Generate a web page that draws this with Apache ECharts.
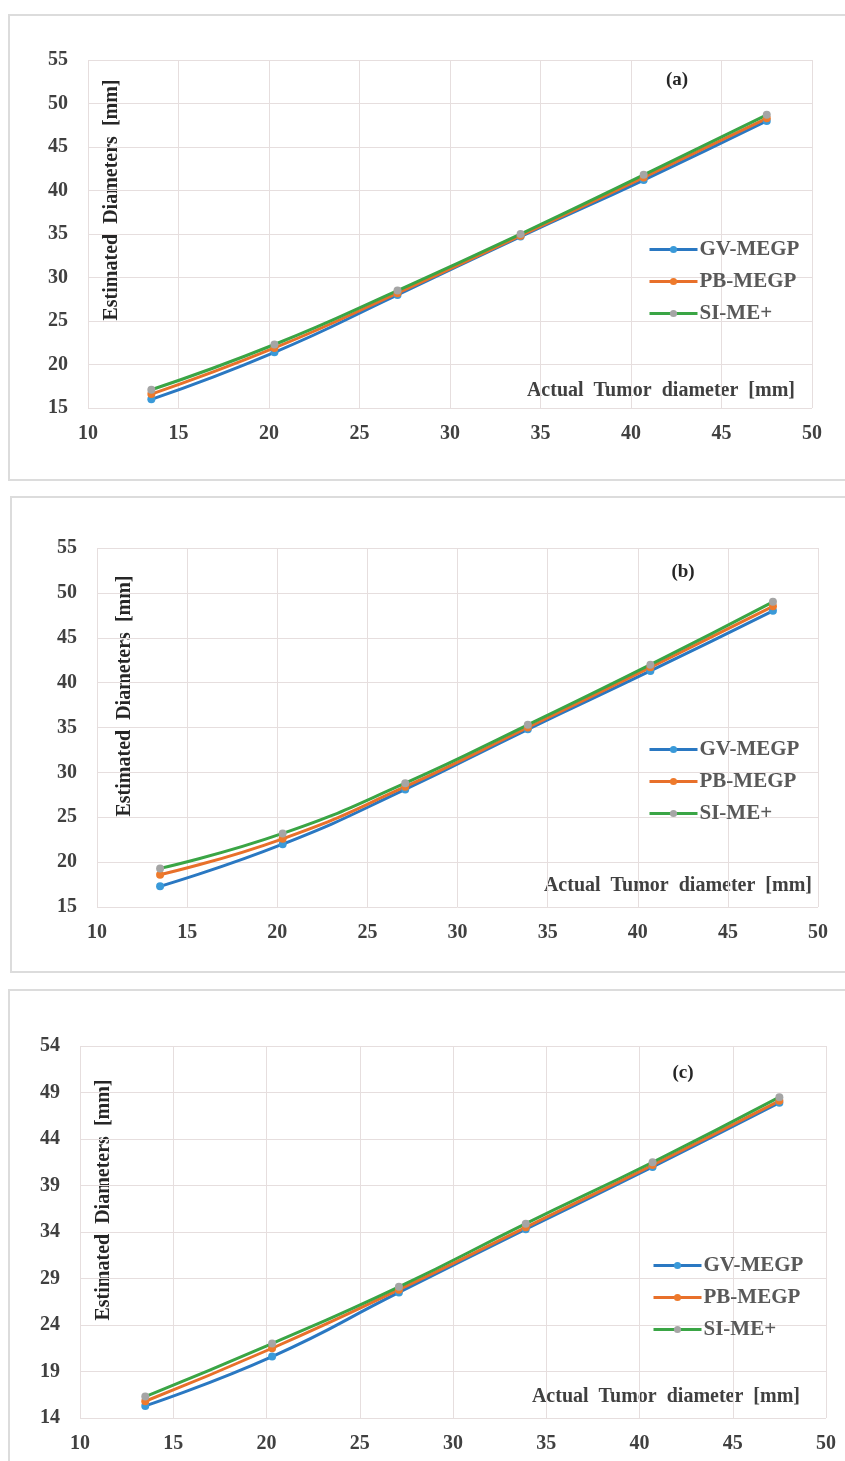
<!DOCTYPE html>
<html><head><meta charset="utf-8">
<script src="https://cdn.jsdelivr.net/npm/echarts@6/dist/echarts.min.js"></script>
<style>html,body{margin:0;padding:0;background:#fff}#c{width:845px;height:1461px}</style>
</head><body><div id="c"></div>
<script>
// ---- data ----
const actualDiam = [13.5, 20.3, 27.1, 33.9, 40.7, 47.5];
const seriesNames = ['GV-MEGP', 'PB-MEGP', 'SI-ME+'];
const panelLabels = ['(a)', '(b)', '(c)'];
const xTicks = [10, 50, 5];
const yTicksA = [15, 55, 5];
const yTicksB = [15, 55, 5];
const yTicksC = [14, 54, 5];
// panel (a)
const gvA = [16.0, 21.4, 28.0, 34.7, 41.2, 48.0];
const pbA = [16.6, 21.9, 28.2, 34.8, 41.5, 48.3];
const siA = [17.1, 22.3, 28.5, 35.0, 41.8, 48.7];
// panel (b)
const gvB = [17.3, 22.0, 28.1, 34.8, 41.3, 48.0];
const pbB = [18.6, 22.6, 28.4, 35.0, 41.7, 48.5];
const siB = [19.3, 23.2, 28.8, 35.3, 42.0, 49.0];
// panel (c)
const gvC = [15.3, 20.6, 27.5, 34.3, 41.0, 47.9];
const pbC = [15.8, 21.5, 27.8, 34.5, 41.2, 48.1];
const siC = [16.3, 22.0, 28.1, 34.9, 41.5, 48.5];

const panels = [
  {ys: [gvA, pbA, siA], yt: yTicksA},
  {ys: [gvB, pbB, siB], yt: yTicksB},
  {ys: [gvC, pbC, siC], yt: yTicksC}
];

// ---- layout/style ----
const FONT = '"Liberation Serif", "DejaVu Serif", serif';
const lineColors = ['#2a78c2', '#e8702a', '#3aa545'];
const markColors = ['#3a9ad9', '#ee7a2c', '#a5a5a5'];
const grids = [
  {left: 88, right: 33, top: 60, height: 348},
  {left: 97, right: 27, top: 548, height: 359},
  {left: 80, right: 19, top: 1046, height: 372}
];
const boxes = [
  {x: 9, y: 15, w: 845, h: 465},
  {x: 11, y: 497, w: 845, h: 475},
  {x: 9, y: 990, w: 845, h: 480}
];
const yNamePos = [[112, 200], [125, 696], [104, 1200]];
const xNamePos = [[795, 391], [812, 886], [800, 1397]];
const labelPos = [[677, 80], [683, 572], [683, 1073]];
const legendPos = [[643, 234], [643, 734], [647, 1250]];

const option = {
  backgroundColor: '#fff',
  animation: false,
  grid: grids.map(g => Object.assign({containLabel: false}, g)),
  xAxis: grids.map((g, i) => ({
    type: 'value', gridIndex: i, min: xTicks[0], max: xTicks[1], interval: xTicks[2],
    axisLine: {show: false}, axisTick: {show: false},
    splitLine: {show: true, lineStyle: {color: '#e6dede', width: 1}},
    axisLabel: {fontFamily: FONT, fontWeight: 'bold', fontSize: 20, color: '#404040', margin: 16}
  })),
  yAxis: panels.map((p, i) => ({
    type: 'value', gridIndex: i, min: p.yt[0], max: p.yt[1], interval: p.yt[2],
    axisLine: {show: false}, axisTick: {show: false},
    splitLine: {show: true, lineStyle: {color: '#e6dede', width: 1}},
    axisLabel: {fontFamily: FONT, fontWeight: 'bold', fontSize: 20, color: '#404040', margin: 20}
  })),
  legend: legendPos.map(lp => ({
    data: seriesNames, orient: 'vertical', left: lp[0], top: lp[1],
    itemWidth: 48, itemHeight: 9, itemGap: 11,
    lineStyle: {width: 3},
    textStyle: {fontFamily: FONT, fontWeight: 'bold', fontSize: 21, color: '#595959', padding: [0, 0, 0, -3]},
    selectedMode: false
  })),
  series: [],
  graphic: []
};

panels.forEach((p, i) => {
  p.ys.forEach((vals, k) => {
    option.series.push({
      name: seriesNames[k], type: 'line', xAxisIndex: i, yAxisIndex: i,
      smooth: true, symbol: 'circle', symbolSize: 8,
      lineStyle: {color: lineColors[k], width: 3},
      itemStyle: {color: markColors[k]},
      data: actualDiam.map((x, j) => [x, vals[j]])
    });
  });
  const b = boxes[i];
  option.graphic.push({type: 'rect', shape: {x: b.x, y: b.y, width: b.w, height: b.h},
    style: {fill: 'none', stroke: '#dcdcdc', lineWidth: 2}, silent: true, z: -1});
  option.graphic.push({type: 'text', x: yNamePos[i][0], y: yNamePos[i][1], rotation: Math.PI / 2,
    style: {text: 'Estimated  Diameters  [mm]', font: 'bold 20px ' + FONT, fill: '#262626',
      align: 'center', verticalAlign: 'middle'}});
  option.graphic.push({type: 'text', x: xNamePos[i][0], y: xNamePos[i][1],
    style: {text: 'Actual  Tumor  diameter  [mm]', font: 'bold 20px ' + FONT, fill: '#404040',
      align: 'right', verticalAlign: 'middle'}});
  option.graphic.push({type: 'text', x: labelPos[i][0], y: labelPos[i][1],
    style: {text: panelLabels[i], font: 'bold 19px ' + FONT, fill: '#262626',
      align: 'center', verticalAlign: 'middle'}});
});

const chart = echarts.init(document.getElementById('c'), null, {renderer: 'canvas'});
chart.setOption(option);
</script></body></html>
